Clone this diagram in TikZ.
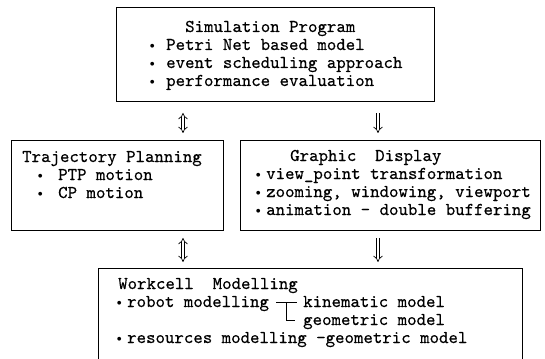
\documentclass[tikz,border=0pt]{standalone}
\usepackage{fontspec}
\newfontfamily\tw{lmmono10-regular.otf}[FakeBold=0.45]
\newfontfamily\symf{DejaVu Sans}
\usetikzlibrary{arrows.meta}
% round bullet used in the item lists
\newcommand\bul{\raisebox{2.2pt}{\symf\fontsize{5}{5}\selectfont ●}}
\begin{document}
\begin{tikzpicture}[x=1pt,y=-1pt,
  box/.style={draw, line width=0.9pt, inner sep=0, anchor=north west},
  txt/.style={anchor=base west, inner sep=0, font=\tw\fontsize{18}{18}\selectfont},
  itm/.style={anchor=base west, inner sep=0},
  dbl/.style={double, double distance=2.6pt, line width=0.7pt},
  both/.style={dbl, {Implies[length=4pt]}-{Implies[length=4pt]}},
  down/.style={dbl, -{Implies[length=4pt]}},
  tee/.style={line width=0.8pt}]
\useasboundingbox (0,0) rectangle (545,358);

% boxes
\node[box, minimum width=318pt, minimum height=94pt] (sim) at (116,7) {};
\node[box, minimum width=212pt, minimum height=90pt] (traj) at (11,140) {};
\node[box, minimum width=300pt, minimum height=90pt] (gfx) at (240,140) {};
\node[anchor=north west, inner sep=0, minimum width=424pt, minimum height=91pt] (wm) at (98,268) {};
\draw[line width=0.9pt] (wm.south west) -- (wm.north west) -- (wm.north east) -- (wm.south east);

% arrow columns
\coordinate (ca) at (183,0);
\coordinate (cb) at (378,0);

% Simulation Program
\node[txt] (simT) at (185,32) {Simulation Program};
\node[itm] (simAb) at (150,50) {\bul};
\node[txt] (simA) at (166,50) {Petri Net based model};
\node[itm] (simBb) at (150,68) {\bul};
\node[txt] (simB) at (166,68) {event scheduling approach};
\node[itm] (simCb) at (150,86) {\bul};
\node[txt] (simC) at (166,86) {performance evaluation};

% Trajectory Planning
\node[txt] (trT) at (22,162) {Trajectory Planning};
\node[itm] (trAb) at (38,180) {\bul};
\node[txt] (trA) at (58,180) {PTP motion};
\node[itm] (trBb) at (38,198) {\bul};
\node[txt] (trB) at (58,198) {CP motion};

% Graphic Display
\node[txt] (gfT) at (290,161) {Graphic~~Display};
\node[itm] (gfAb) at (256,179) {\bul};
\node[txt] (gfA) at (266,179) {view\_point transformation};
\node[itm] (gfBb) at (256,197) {\bul};
\node[txt] (gfB) at (266,197) {zooming, windowing, viewport};
\node[itm] (gfCb) at (256,215) {\bul};
\node[txt] (gfC) at (266,215) {animation - double buffering};

% Workcell Modelling
\node[txt] (wmT) at (118,289) {Workcell~~Modelling};
\node[itm] (wmAb) at (117,307) {\bul};
\node[txt] (wmA) at (127,307) {robot modelling};
\node[txt] (wmK) at (303,307) {kinematic model};
\node[txt] (wmG) at (303,325) {geometric model};
\node[itm] (wmBb) at (117,343) {\bul};
\node[txt] (wmB) at (127,343) {resources modelling -geometric model};

% branching mark between robot modelling and its two models
\coordinate (tl) at (276,302);
\coordinate (tr) at (297,302);
\coordinate (tm) at (286,302);
\coordinate (tb) at (286,320);
\coordinate (te) at (295,320);
\draw[tee] (tl) -- (tr);
\draw[tee] (tm) -- (tb) -- (te);

% connectors
\draw[both, shorten <=11pt, shorten >=7pt] (sim.south -| ca) -- (traj.north -| ca);
\draw[down, shorten <=11pt, shorten >=7pt] (sim.south -| cb) -- (gfx.north -| cb);
\draw[both, shorten <=7pt, shorten >=6pt] (traj.south -| ca) -- (wm.north -| ca);
\draw[down, shorten <=7pt, shorten >=6pt] (gfx.south -| cb) -- (wm.north -| cb);
\end{tikzpicture}
\end{document}
